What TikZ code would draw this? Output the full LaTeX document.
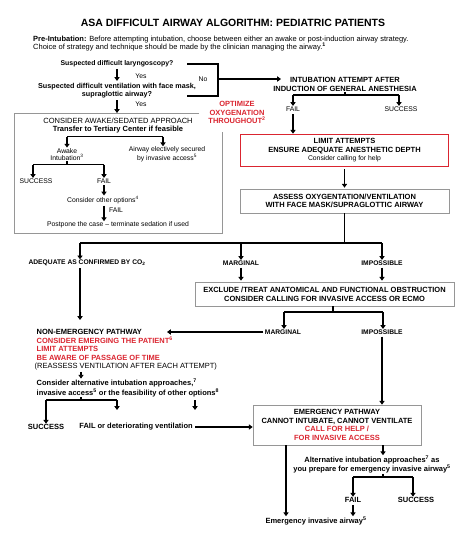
\documentclass[tikz,border=0pt]{standalone}
\usepackage{fontspec}
\setmainfont{Liberation Sans}
\usetikzlibrary{arrows.meta}
\definecolor{asared}{RGB}{218,37,48}
\definecolor{boxgray}{RGB}{150,150,150}
\begin{document}
\begin{tikzpicture}[x=1pt,y=-1pt,
  t/.style={inner sep=0.5pt, align=center, font=\fontsize{6.8}{7.5}\selectfont},
  tb/.style={inner sep=0.5pt, align=center, font=\fontsize{7.5}{8}\selectfont\bfseries},
  tc/.style={inner sep=0.5pt, align=center, font=\fontsize{7.5}{8.5}\selectfont\bfseries},
  ts/.style={inner sep=0.5pt, align=center, font=\fontsize{6.7}{7}\selectfont\bfseries},
  tl/.style={inner sep=0.5pt, align=center, font=\fontsize{7.5}{8}\selectfont\bfseries},
  ln/.style={line width=1.3pt},
  arr/.style={line width=1.3pt, -{Triangle[length=3.8pt,width=5.2pt]}},
  gbox/.style={draw=boxgray, line width=0.7pt},
]
\useasboundingbox (0,0) rectangle (474,546);

% title and intro
\node[inner sep=0, font=\fontsize{10.5}{12}\selectfont\bfseries] (title) at (233,23) {ASA DIFFICULT AIRWAY ALGORITHM: PEDIATRIC PATIENTS};
\node[inner sep=0, anchor=west, align=left, font=\fontsize{7.5}{8.5}\selectfont] (pre) at (33,43.5) {\textbf{Pre-Intubation:} Before attempting intubation, choose between either an awake or post-induction airway strategy.\\Choice of strategy and technique should be made by the clinician managing the airway.\textsuperscript{\textbf{1}}};

% questions
\node[tb, font=\fontsize{6.9}{8}\selectfont\bfseries] (q1) at (117,64) {Suspected difficult laryngoscopy?};
\node[tb, font=\fontsize{7.2}{8}\selectfont\bfseries] (q2) at (117,91) {Suspected difficult ventilation with face mask,\\supraglottic airway?};
\node[t] (yes1) at (141,76) {Yes};
\node[t] (yes2) at (141,104) {Yes};
\draw[arr, shorten <=1.5pt, shorten >=2pt] (q1.south) -- (q2.north);
\coordinate (awtop) at (117,113);
\draw[arr, shorten <=1pt] (q2.south) -- (awtop);

% No bracket
\coordinate (nA) at (187,64);
\coordinate (nB) at (218,64);
\coordinate (nC) at (218,96);
\coordinate (nD) at (187,96);
\coordinate (nM) at (218,79);
\coordinate (nTip) at (281,79);
\draw[ln] (nA) -- (nB) -- (nC) -- (nD);
\draw[arr] (nM) -- (nTip);
\node[t] (no) at (203,79) {No};

% induction branch
\node[tc, font=\fontsize{7.5}{9}\selectfont\bfseries] (intub) at (345,84.5) {INTUBATION ATTEMPT AFTER\\INDUCTION OF GENERAL ANESTHESIA};
\coordinate (b1L) at (293,95);
\coordinate (b1R) at (399,95);
\coordinate (b1M) at (345,95);
\draw[ln] (b1L) -- (b1R);
\draw[ln] (intub.south) -- (b1M);
\node[t] (fail1) at (293,109) {FAIL};
\node[t] (succ1) at (401,109) {SUCCESS};
\draw[arr] (b1L) -- (b1L |- fail1.north);
\draw[arr] (b1R) -- (b1R |- succ1.north);

\node[draw=asared, line width=1.6pt, minimum width=208pt, minimum height=32pt, inner sep=0, align=center, font=\fontsize{7.5}{8.5}\selectfont\bfseries] (limit) at (344.5,150.5) {LIMIT ATTEMPTS\\ENSURE ADEQUATE ANESTHETIC DEPTH\\{\fontsize{6.8}{8.5}\selectfont\mdseries Consider calling for help}};
\draw[arr, shorten <=2pt] (fail1.south) -- (fail1.south |- limit.north);

\node[gbox, minimum width=209pt, minimum height=24pt, inner sep=0, align=center, font=\fontsize{7.5}{8.3}\selectfont\bfseries] (assess) at (344.5,201) {ASSESS OXYGENTATION/VENTILATION\\WITH FACE MASK/SUPRAGLOTTIC AIRWAY};
\draw[arr, shorten <=2pt, shorten >=1pt] (limit.south) -- (assess.north);

% optimize
\node[tl, text=asared, font=\fontsize{7.5}{8.5}\selectfont\bfseries] (optim) at (237,112.5) {OPTIMIZE\\OXYGENATION\\THROUGHOUT\textsuperscript{2}};

% awake box
\coordinate (awA) at (199,113);
\coordinate (awB) at (14,113);
\coordinate (awC) at (14,233);
\coordinate (awD) at (222,233);
\coordinate (awE) at (222,132);
\draw[gbox] (awA) -- (awB) -- (awC) -- (awD) -- (awE);
\node[t, font=\fontsize{7.5}{8}\selectfont] (cons) at (118,121) {CONSIDER AWAKE/SEDATED APPROACH};
\node[tb] (transf) at (118,129.5) {Transfer to Tertiary Center if feasible};
\coordinate (b0L) at (67,136.5);
\coordinate (b0R) at (163,136.5);
\draw[ln] (b0L) -- (b0R);
\node[t] (awake) at (67,154.5) {Awake\\Intubation\textsuperscript{3}};
\node[t] (airway) at (167,154.5) {Airway electively secured\\by invasive access\textsuperscript{5}};
\draw[arr] (b0L) -- (b0L |- awake.north);
\draw[arr] (b0R) -- (b0R |- airway.north);
\coordinate (bAwL) at (33,164.5);
\coordinate (bAwR) at (104,164.5);
\draw[ln] (bAwL) -- (bAwR);
\draw[ln] (awake.south) -- (awake.south |- bAwL);
\node[t] (succ0) at (36,181) {SUCCESS};
\node[t] (fail0) at (104,181) {FAIL};
\draw[arr] (bAwL) -- (bAwL |- succ0.north);
\draw[arr] (bAwR) -- (bAwR |- fail0.north);
\node[t] (cother) at (103,200) {Consider other options\textsuperscript{4}};
\draw[arr, shorten <=1pt] (fail0.south) -- (fail0.south |- cother.north);
\node[t] (fail0b) at (116,210) {FAIL};
\node[t] (postpone) at (118,225) {Postpone the case – terminate sedation if used};
\draw[arr, shorten <=1pt] (cother.south -| fail0.south) -- (postpone.north -| fail0.south);

% split after assess
\coordinate (s2) at (344.5,243);
\coordinate (s2L) at (80,243);
\coordinate (s2M) at (241,243);
\coordinate (s2R) at (382,243);
\draw[ln] (assess.south) -- (s2);
\draw[ln] (s2L) -- (s2R);
\node[ts] (adeq) at (87,263) {ADEQUATE AS CONFIRMED BY CO\textsubscript{2}};
\node[ts] (marg1) at (241,263) {MARGINAL};
\node[ts] (imp1) at (382,263) {IMPOSSIBLE};
\draw[arr] (s2L) -- (s2L |- adeq.north);
\draw[arr] (s2M) -- (marg1.north);
\draw[arr] (s2R) -- (imp1.north);

\node[gbox, minimum width=259pt, minimum height=24pt, inner sep=0, align=center, font=\fontsize{7.5}{9}\selectfont\bfseries] (excl) at (324.5,294) {EXCLUDE /TREAT ANATOMICAL AND FUNCTIONAL OBSTRUCTION\\CONSIDER CALLING FOR INVASIVE ACCESS OR ECMO};
\draw[arr, shorten <=1.5pt, shorten >=1pt] (marg1.south) -- (marg1.south |- excl.north);
\draw[arr, shorten <=1.5pt, shorten >=1pt] (imp1.south) -- (imp1.south |- excl.north);

\coordinate (s3) at (333,312);
\coordinate (s3L) at (284,312);
\coordinate (s3R) at (383,312);
\draw[ln] (excl.south -| s3) -- (s3);
\draw[ln] (s3L) -- (s3R);
\node[ts] (marg2) at (283,332) {MARGINAL};
\node[ts] (imp2) at (382,332) {IMPOSSIBLE};
\draw[arr] (s3L) -- (s3L |- marg2.north);
\draw[arr] (s3R) -- (s3R |- imp2.north);

% non-emergency pathway
\coordinate (adeqEnd) at (80,320);
\draw[arr, shorten <=1.5pt] (adeq.south -| s2L) -- (adeqEnd);
\node[tc, anchor=base west] (ne1) at (36,334.7) {NON-EMERGENCY PATHWAY};
\node[tc, anchor=base west, text=asared] (ne2) at (36,343.2) {CONSIDER EMERGING THE PATIENT\textsuperscript{6}};
\node[tc, anchor=base west, text=asared] (ne3) at (36,351.7) {LIMIT ATTEMPTS};
\node[tc, anchor=base west, text=asared] (ne4) at (36,360.2) {BE AWARE OF PASSAGE OF TIME};
\node[t, anchor=base west, font=\fontsize{7.5}{8}\selectfont] (reass) at (34,368.7) {(REASSESS VENTILATION AFTER EACH ATTEMPT)};
\coordinate (neTip) at (167,332);
\draw[arr, shorten <=1pt] (marg2.west) -- (neTip);

\node[tb, anchor=west, align=left, font=\fontsize{7.5}{8}\selectfont\bfseries] (calt) at (36,388) {Consider alternative intubation approaches,\textsuperscript{7}\\invasive access\textsuperscript{5} or the feasibility of other options\textsuperscript{8}};
\coordinate (c81) at (81,0);
\draw[arr, shorten <=1pt] (reass.south -| c81) -- (calt.north -| c81);
\coordinate (b4M) at (81,400);
\coordinate (b4L) at (46,400);
\coordinate (b4R) at (117,400);
\draw[ln] (calt.south -| c81) -- (b4M);
\draw[ln] (b4L) -- (b4R);
\node[tl] (succ4) at (46,427) {SUCCESS};
\node[tb] (failv) at (136,427) {FAIL or deteriorating ventilation};
\draw[arr] (b4L) -- (b4L |- succ4.north);
\coordinate (b4Rend) at (117,410);
\draw[arr] (b4R) -- (b4Rend);
\coordinate (x195) at (195,0);
\coordinate (x195end) at (195,410);
\draw[arr, shorten <=3pt] (calt.south -| x195) -- (x195end);

% emergency pathway
\node[gbox, minimum width=168pt, minimum height=40pt, inner sep=0, align=center, font=\fontsize{7.5}{8.6}\selectfont\bfseries] (emerg) at (337,425) {EMERGENCY PATHWAY\\CANNOT INTUBATE, CANNOT VENTILATE\\\textcolor{asared}{CALL FOR HELP /}\\\textcolor{asared}{FOR INVASIVE ACCESS}};
\draw[arr, shorten <=1.5pt] (imp2.south) -- (imp2.south |- emerg.north);
\draw[arr, shorten <=2pt] (failv.east) -- (emerg.west |- failv.east);

\node[tb, font=\fontsize{7.5}{9}\selectfont\bfseries] (alt) at (372,464.5) {Alternative intubation approaches\textsuperscript{7} as\\you prepare for emergency invasive airway\textsuperscript{5}};
\coordinate (x383) at (383,0);
\draw[arr] (emerg.south -| x383) -- (alt.north -| x383);
\coordinate (b5M) at (383,477);
\coordinate (b5L) at (353,477);
\coordinate (b5R) at (413,477);
\draw[ln] (alt.south -| x383) -- (b5M);
\draw[ln] (b5L) -- (b5R);
\node[tl] (fail5) at (353,500) {FAIL};
\node[tl] (succ5) at (416,500) {SUCCESS};
\draw[arr] (b5L) -- (b5L |- fail5.north);
\draw[arr] (b5R) -- (b5R |- succ5.north);
\node[tl] (eia) at (316,521) {Emergency invasive airway\textsuperscript{5}};
\draw[arr, shorten <=1.5pt] (fail5.south) -- (fail5.south |- eia.north);
\coordinate (x286) at (286,0);
\draw[arr] (emerg.south -| x286) -- (eia.north -| x286);
\end{tikzpicture}
\end{document}
